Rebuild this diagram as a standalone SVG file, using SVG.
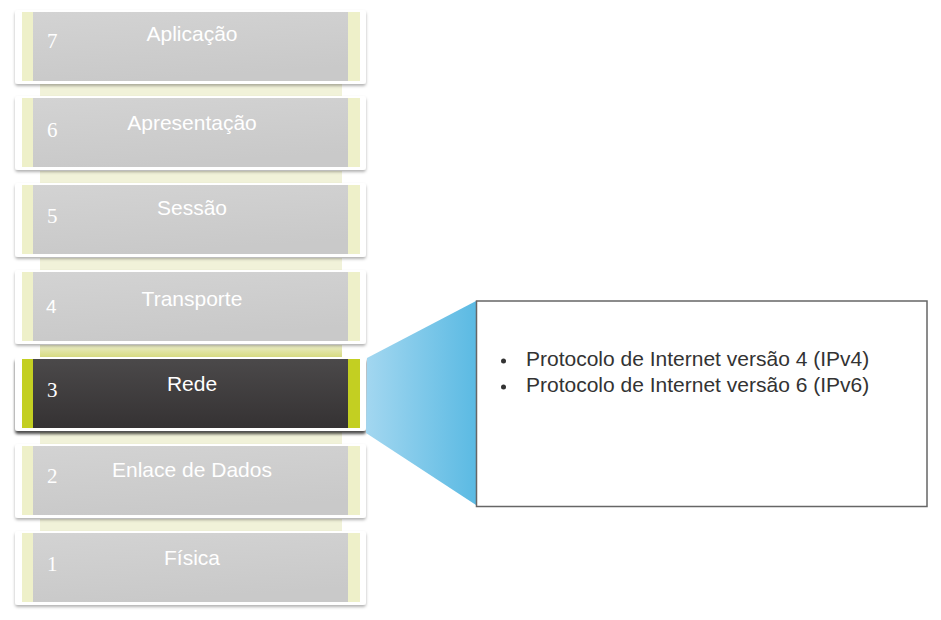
<svg xmlns="http://www.w3.org/2000/svg" width="941" height="620" viewBox="0 0 941 620">
<defs>
<linearGradient id="gBody" x1="0" y1="0" x2="0.3" y2="1">
<stop offset="0" stop-color="#d3d3d3"/><stop offset="1" stop-color="#c9c9c9"/>
</linearGradient>
<linearGradient id="gDark" x1="0" y1="0" x2="0" y2="1">
<stop offset="0" stop-color="#4b494a"/><stop offset="1" stop-color="#353233"/>
</linearGradient>
<linearGradient id="gBlue" x1="0" y1="0" x2="1" y2="0">
<stop offset="0" stop-color="#a3d7f0"/><stop offset="1" stop-color="#5bbae3"/>
</linearGradient>
<linearGradient id="gLink" x1="0" y1="0" x2="0" y2="1">
<stop offset="0" stop-color="#eceeca"/><stop offset="1" stop-color="#d6da80"/>
</linearGradient>
<filter id="sh" x="-5%" y="-10%" width="110%" height="130%">
<feDropShadow dx="0" dy="2" stdDeviation="1.5" flood-color="#000" flood-opacity="0.3"/>
</filter>
<filter id="shD" x="-5%" y="-10%" width="110%" height="130%">
<feDropShadow dx="0" dy="3" stdDeviation="1.5" flood-color="#000" flood-opacity="0.7"/>
</filter>
</defs>
<style>
.card{fill:#ffffff;}
.strip{fill:#eef0c9;}
.stripA{fill:#c3cf22;}
.link{fill:#f1f2d9;}
.num{font-family:"Liberation Serif","Times New Roman",serif;font-size:21px;fill:#ffffff;}
.numS{font-family:"Liberation Sans",Arial,sans-serif;font-size:19px;fill:#ffffff;}
.lbl{font-family:"Liberation Sans",Arial,sans-serif;font-size:21px;fill:#ffffff;text-anchor:middle;}
.txt{font-family:"Liberation Sans",Arial,sans-serif;font-size:21px;fill:#333333;}
</style>

<g id="links">
<rect class="link" x="40" y="84" width="302" height="12"/>
<rect class="link" x="40" y="171" width="302" height="12"/>
<rect class="link" x="40" y="258" width="302" height="12"/>
<rect x="40" y="345" width="302" height="12" fill="url(#gLink)"/>
<rect class="link" x="40" y="432" width="302" height="12"/>
<rect class="link" x="40" y="519" width="302" height="12"/>
</g>

<g id="layer7">
<rect class="card" x="15" y="10" width="351" height="74" rx="3" filter="url(#sh)"/>
<rect class="strip" x="22" y="12" width="338" height="69"/>
<rect x="33" y="12" width="315" height="69" fill="url(#gBody)"/>
<text class="num" x="47" y="48">7</text>
<text class="lbl" x="192" y="41">Aplicação</text>
</g>
<g id="layer6">
<rect class="card" x="15" y="96" width="351" height="74" rx="3" filter="url(#sh)"/>
<rect class="strip" x="22" y="98" width="338" height="69"/>
<rect x="33" y="98" width="315" height="69" fill="url(#gBody)"/>
<text class="num" x="47" y="137">6</text>
<text class="lbl" x="192" y="130">Apresentação</text>
</g>
<g id="layer5">
<rect class="card" x="15" y="183" width="351" height="74" rx="3" filter="url(#sh)"/>
<rect class="strip" x="22" y="185" width="338" height="69"/>
<rect x="33" y="185" width="315" height="69" fill="url(#gBody)"/>
<text class="num" x="47" y="223">5</text>
<text class="lbl" x="192" y="215">Sessão</text>
</g>
<g id="layer4">
<rect class="card" x="15" y="270" width="351" height="74" rx="3" filter="url(#sh)"/>
<rect class="strip" x="22" y="272" width="338" height="69"/>
<rect x="33" y="272" width="315" height="69" fill="url(#gBody)"/>
<text class="numS" x="46" y="313">4</text>
<text class="lbl" x="192" y="306">Transporte</text>
</g>
<g id="layer3">
<rect class="card" x="15" y="357" width="351" height="74" rx="3" filter="url(#shD)"/>
<rect class="stripA" x="22" y="359" width="338" height="69"/>
<rect x="33" y="359" width="315" height="69" fill="url(#gDark)"/>
<text class="num" x="47" y="397">3</text>
<text class="lbl" x="192" y="391">Rede</text>
</g>
<g id="layer2">
<rect class="card" x="15" y="444" width="351" height="74" rx="3" filter="url(#sh)"/>
<rect class="strip" x="22" y="446" width="338" height="69"/>
<rect x="33" y="446" width="315" height="69" fill="url(#gBody)"/>
<text class="num" x="47" y="483">2</text>
<text class="lbl" x="192" y="477">Enlace de Dados</text>
</g>
<g id="layer1">
<rect class="card" x="15" y="531" width="351" height="74" rx="3" filter="url(#sh)"/>
<rect class="strip" x="22" y="533" width="338" height="69"/>
<rect x="33" y="533" width="315" height="69" fill="url(#gBody)"/>
<text class="num" x="47" y="571">1</text>
<text class="lbl" x="192" y="565">Física</text>
</g>

<g id="connectors">
<polygon points="367,358 476,301 476,505 366,433" fill="url(#gBlue)"/>
</g>

<g id="detail">
<rect x="476.5" y="301" width="450.5" height="205.5" fill="#ffffff" stroke="#666666" stroke-width="1.5"/>
<circle cx="503.5" cy="361" r="2.5" fill="#333333"/>
<text class="txt" x="526" y="366">Protocolo de Internet versão 4 (IPv4)</text>
<circle cx="503.5" cy="387" r="2.5" fill="#333333"/>
<text class="txt" x="526" y="392">Protocolo de Internet versão 6 (IPv6)</text>
</g>
</svg>
